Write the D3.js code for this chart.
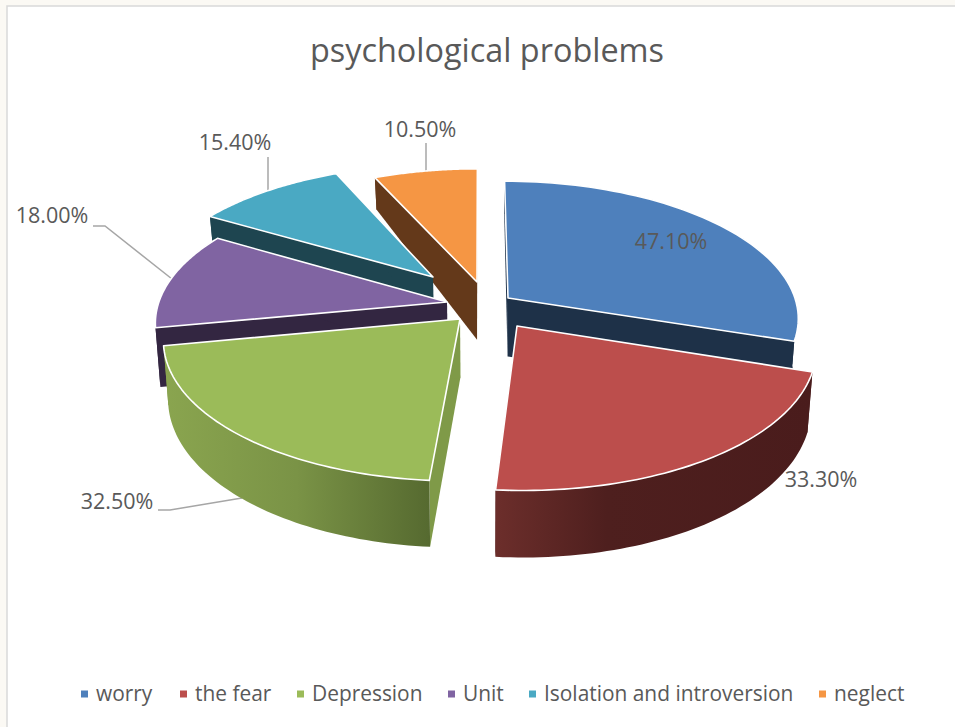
<!DOCTYPE html>
<html><head><meta charset="utf-8">
<script src="https://cdn.jsdelivr.net/npm/d3@7/dist/d3.min.js"></script>
<style>html,body{margin:0;padding:0;background:#fbf9f4;overflow:hidden}text{font-family:"Open Sans",sans-serif;fill:#595959}</style>
</head><body><script>
// ---- data ----
const categories = ["worry","the fear","Depression","Unit","Isolation and introversion","neglect"];
const values = [47.1,33.3,32.5,18.0,15.4,10.5];
const valueLabels = ["47.10%","33.30%","32.50%","18.00%","15.40%","10.50%"];
// ---- style ----
const topColors = ["#4e80bc","#bc4e4c","#9bbb59","#8064a2","#4aa9c3","#f59644"];
const wallColors = ["#1e3148","#4a1e1e","#7f9a48","#332641","#1e4550","#64391a"];
const rimStops = [
  [[0,"#1e3148"],[1,"#1e3148"]],
  [[0,"#6c2e2b"],[0.35,"#4e1f1e"],[1,"#4a1c1c"]],
  [[0,"#8aa54f"],[0.5,"#7a9346"],[1,"#566a30"]],
  [[0,"#332641"],[1,"#332641"]],
  [[0,"#1e4550"],[1,"#1e4550"]],
  [[0,"#64391a"],[1,"#64391a"]]];
// ---- layout ----
const W=955,H=727,cx=480,cy=305,Rx=289,Ry=135,persp=0.14;
const explode=[[28,-7],[37,21],[-20,14],[-33,-3],[-47,-28],[-3,-23]]; // px offset of each slice tip
const paintOrder=[5,4,3,2,0,1];
const labelPos=[[671,249],[821,487],[117,509],[52,223],[235,150],[420,137]];
const leaders=[null,null,[[158,510],[170,510],[242,498]],[[93,226],[105,226],[172,279]],[[268,157],[268,190]],[[426,143],[426,172]]];
const legendX=[81,180,297,448,529,819];

const svg=d3.select("body").append("svg").attr("width",W).attr("height",H).style("display","block");
svg.append("rect").attr("x",7).attr("y",6).attr("width",W).attr("height",H).attr("fill","#fff").attr("stroke","#d9d9d9").attr("stroke-width",1.5);
const defs=svg.append("defs");

const project=(u,v)=>{const w=1-persp*v;return [cx+Rx*u/w,cy+Ry*v/w];};
const unproject=(dx,dy)=>{const v=dy/(Ry+persp*dy),w=1-persp*v;return [dx*w/Rx,v];};
const wallH=d3.scaleLinear().domain([-1.15,-0.17,0.4,1.15]).range([30,58,60,67]);
const lower=(u,v)=>{const [x,y]=project(u,v);return [cx+(x-cx)*0.985,y+wallH(v)];};
const line=d3.line();

const arcs=d3.pie().sort(null).startAngle(0).endAngle(2*Math.PI)(values);

// leader lines
svg.append("g").selectAll("path").data(leaders.filter(Boolean)).join("path")
  .attr("d",d=>line(d)).attr("fill","none").attr("stroke","#a6a6a6").attr("stroke-width",1.5);

const pie=svg.append("g");
paintOrder.forEach(i=>{
  const a=arcs[i];
  const [au,av]=unproject(explode[i][0],explode[i][1]);
  const n=60;
  const rim=d3.range(n+1).map(k=>{
    const t=a.startAngle+(a.endAngle-a.startAngle)*k/n;
    return [au+Math.sin(t),av-Math.cos(t)];
  });
  const rimTop=rim.map(p=>project(p[0],p[1]));
  const rimBot=rim.map(p=>lower(p[0],p[1]));
  const apexTop=project(au,av),apexBot=lower(au,av);
  const g=pie.append("g");
  const xs=d3.extent(rimTop,p=>p[0]);
  const gid="rim"+i;
  const grad=defs.append("linearGradient").attr("id",gid).attr("gradientUnits","userSpaceOnUse")
    .attr("x1",xs[0]).attr("x2",xs[1]).attr("y1",0).attr("y2",0);
  rimStops[i].forEach(s=>grad.append("stop").attr("offset",s[0]).attr("stop-color",s[1]));
  // side walls
  [[rimTop[0],rimBot[0]],[rimTop[n],rimBot[n]]].forEach(e=>{
    g.append("path").attr("d",line([apexTop,e[0],e[1],apexBot])+"Z").attr("fill",wallColors[i]);
  });
  // outer wall
  g.append("path").attr("d",line(rimTop.concat(rimBot.slice().reverse()))+"Z").attr("fill","url(#"+gid+")");
  // top face
  g.append("path").attr("d",line([apexTop].concat(rimTop))+"Z").attr("fill",topColors[i])
    .attr("stroke","#fff").attr("stroke-width",1.6).attr("stroke-linejoin","round");
});

// value labels
svg.append("g").selectAll("text").data(valueLabels).join("text")
  .attr("x",(d,i)=>labelPos[i][0]).attr("y",(d,i)=>labelPos[i][1])
  .attr("text-anchor","middle").attr("font-size",21.5).text(d=>d);

// title
svg.append("text").attr("x",487).attr("y",62).attr("text-anchor","middle").attr("font-size",32.4).text("psychological problems");

// legend
const lg=svg.append("g").selectAll("g").data(categories).join("g")
  .attr("transform",(d,i)=>`translate(${legendX[i]},694)`);
lg.append("rect").attr("y",-3.5).attr("width",7).attr("height",7).attr("fill",(d,i)=>topColors[i]);
lg.append("text").attr("x",15).attr("y",7).attr("font-size",20.9).text(d=>d);
</script></body></html>
